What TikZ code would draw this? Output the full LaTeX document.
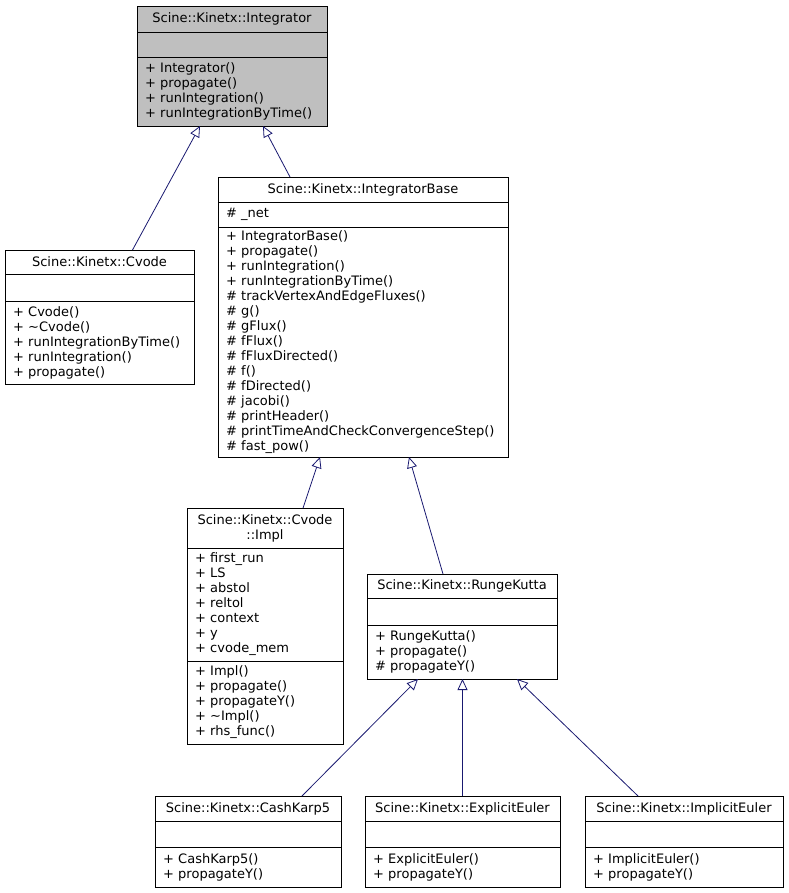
\documentclass[tikz,border=0pt]{standalone}
\usepackage{fontspec}
\setmainfont{DejaVu Sans}
\usetikzlibrary{positioning,arrows.meta}
\definecolor{edgeblue}{HTML}{191970}
\definecolor{basegray}{HTML}{BFBFBF}

\begin{document}
\begin{tikzpicture}[x=1pt, y=1pt,
    font=\fontsize{13}{15}\selectfont,
    head/.style={rectangle, draw=black, line width=0.9pt, outer sep=0pt, inner sep=0pt, align=center, anchor=north west},
    part/.style={rectangle, draw=black, line width=0.9pt, outer sep=0pt, inner xsep=8pt, inner ysep=0pt, align=left, text width=#1},
    gray/.style={fill=basegray},
    inherit/.style={draw=edgeblue, line width=0.8pt, -{Triangle[open, length=11pt, width=10pt]}}
  ]
    \useasboundingbox (0,0) rectangle (788,-893);

    % Integrator
    \node (integ) [head, gray, minimum width=190, minimum height=26] at (137,-6) {Scine::Kinetx::Integrator};
    \node (integ_attr) [part=174pt, gray, minimum height=25, below=0pt of integ] {};
    \node (integ_ops) [part=174pt, gray, minimum height=69, below=0pt of integ_attr] {+ Integrator()\\+ propagate()\\+ runIntegration()\\+ runIntegrationByTime()};

    % Cvode
    \node (cvode) [head, minimum width=189, minimum height=24] at (5,-250) {Scine::Kinetx::Cvode};
    \node (cvode_attr) [part=173pt, minimum height=27, below=0pt of cvode] {};
    \node (cvode_ops) [part=173pt, minimum height=83, below=0pt of cvode_attr] {+ Cvode()\\+ \textasciitilde Cvode()\\+ runIntegrationByTime()\\+ runIntegration()\\+ propagate()};

    % IntegratorBase
    \node (base) [head, minimum width=290, minimum height=25] at (218,-177) {Scine::Kinetx::IntegratorBase};
    \node (base_attr) [part=274pt, minimum height=25, below=0pt of base] {\# \_net};
    \node (base_ops) [part=274pt, minimum height=230, below=0pt of base_attr] {+ IntegratorBase()\\+ propagate()\\+ runIntegration()\\+ runIntegrationByTime()\\\# trackVertexAndEdgeFluxes()\\\# g()\\\# gFlux()\\\# fFlux()\\\# fFluxDirected()\\\# f()\\\# fDirected()\\\# jacobi()\\\# printHeader()\\\# printTimeAndCheckConvergenceStep()\\\# fast\_pow()};

    % Cvode::Impl
    \node (impl) [head, minimum width=156, minimum height=40] at (187,-508) {Scine::Kinetx::Cvode\\::Impl};
    \node (impl_attr) [part=140pt, minimum height=113, below=0pt of impl] {+ first\_run\\+ LS\\+ abstol\\+ reltol\\+ context\\+ y\\+ cvode\_mem};
    \node (impl_ops) [part=140pt, minimum height=83, below=0pt of impl_attr] {+ Impl()\\+ propagate()\\+ propagateY()\\+ \textasciitilde Impl()\\+ rhs\_func()};

    % RungeKutta
    \node (rk) [head, minimum width=190, minimum height=24] at (367,-574) {Scine::Kinetx::RungeKutta};
    \node (rk_attr) [part=174pt, minimum height=27, below=0pt of rk] {};
    \node (rk_ops) [part=174pt, minimum height=54, below=0pt of rk_attr] {+ RungeKutta()\\+ propagate()\\\# propagateY()};

    % Steppers
    \node (ck) [head, minimum width=186, minimum height=25] at (155,-796) {Scine::Kinetx::CashKarp5};
    \node (ck_attr) [part=170pt, minimum height=26, below=0pt of ck] {};
    \node (ck_ops) [part=170pt, minimum height=40, below=0pt of ck_attr] {+ CashKarp5()\\+ propagateY()};

    \node (ee) [head, minimum width=195, minimum height=25] at (365,-796) {Scine::Kinetx::ExplicitEuler};
    \node (ee_attr) [part=179pt, minimum height=26, below=0pt of ee] {};
    \node (ee_ops) [part=179pt, minimum height=40, below=0pt of ee_attr] {+ ExplicitEuler()\\+ propagateY()};

    \node (ie) [head, minimum width=198, minimum height=25] at (585,-796) {Scine::Kinetx::ImplicitEuler};
    \node (ie_attr) [part=182pt, minimum height=26, below=0pt of ie] {};
    \node (ie_ops) [part=182pt, minimum height=40, below=0pt of ie_attr] {+ ImplicitEuler()\\+ propagateY()};

    % Inheritance
    \draw[inherit] ([xshift=33]cvode.north) -- ([xshift=-32]integ_ops.south);
    \draw[inherit] ([xshift=-73]base.north) -- ([xshift=31]integ_ops.south);
    \draw[inherit] ([xshift=38]impl.north) -- ([xshift=-43]base_ops.south);
    \draw[inherit] ([xshift=-19]rk.north) -- ([xshift=46]base_ops.south);
    \draw[inherit] ([xshift=54]ck.north) -- ([xshift=-44]rk_ops.south);
    \draw[inherit] (ee.north) -- (ee.north |- rk_ops.south);
    \draw[inherit] ([xshift=-46]ie.north) -- ([xshift=55]rk_ops.south);

  \end{tikzpicture}
\end{document}
